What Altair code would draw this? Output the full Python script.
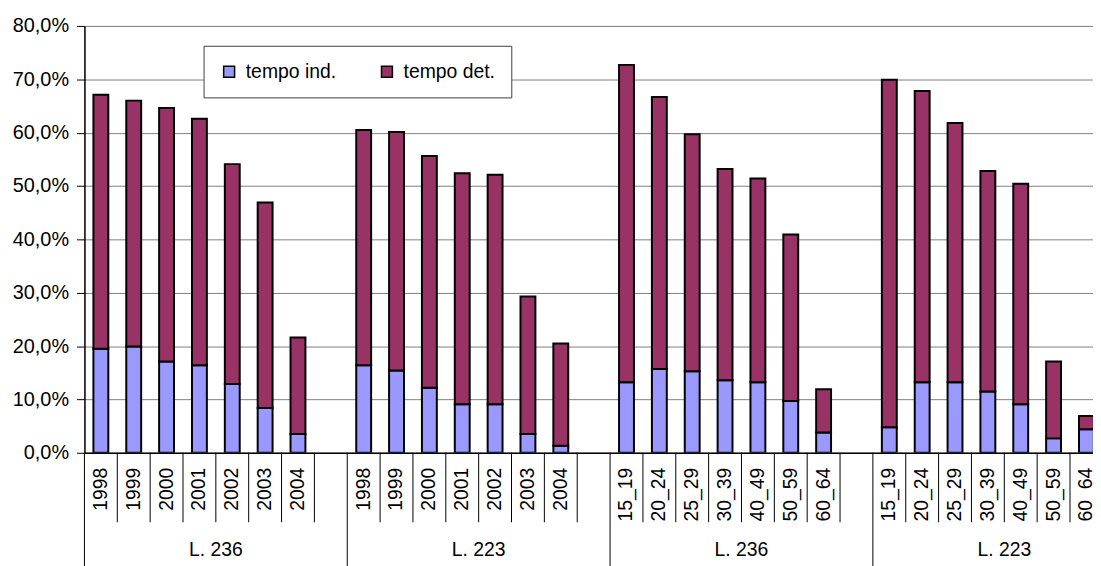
import altair as alt
import pandas as pd

# ---------------- data ----------------
groups = ["L. 236", "L. 223", "L. 236", "L. 223"]
years = ["1998", "1999", "2000", "2001", "2002", "2003", "2004"]
ages = ["15_19", "20_24", "25_29", "30_39", "40_49", "50_59", "60_64"]
group_categories = [years, years, ages, ages]
series_names = ["tempo ind.", "tempo det."]
series_colors = ["#9999FF", "#993366"]

# percent values
ind_values = [19.5, 19.9, 17.1, 16.4, 12.9, 8.4, 3.5,
              16.4, 15.4, 12.2, 9.1, 9.1, 3.5, 1.3,
              13.2, 15.7, 15.3, 13.6, 13.2, 9.7, 3.8,
              4.8, 13.2, 13.2, 11.5, 9.1, 2.7, 4.4]
det_values = [47.6, 46.1, 47.5, 46.2, 41.2, 38.5, 18.1,
              44.1, 44.7, 43.4, 43.3, 43.0, 25.8, 19.2,
              59.5, 51.0, 44.4, 39.6, 38.2, 31.2, 8.1,
              65.1, 54.6, 48.6, 41.3, 41.3, 14.4, 2.5]

y_ticks = [0, 0.1, 0.2, 0.3, 0.4, 0.5, 0.6, 0.7, 0.8]

# ---------------- layout / style ----------------
SLOTS = 8             # 7 bars + 1 empty slot per group
X_DOMAIN = [0, 30.7]  # visible part of the category axis
FONT = "Liberation Sans"
FS = 19.5

# ---------------- tables ----------------
rows, labels, short_div, long_div, glabels = [], [], [], [], []
k = 0
for g, (gname, cats) in enumerate(zip(groups, group_categories)):
    long_div.append({"pos": g * SLOTS})
    glabels.append({"pos": g * SLOTS + SLOTS / 2, "label": gname})
    for j, c in enumerate(cats):
        pos = g * SLOTS + j + 0.5
        rows.append({"pos": pos, "series": series_names[0], "order": 0, "value": ind_values[k] / 100})
        rows.append({"pos": pos, "series": series_names[1], "order": 1, "value": det_values[k] / 100})
        labels.append({"pos": pos, "label": c})
        short_div.append({"pos": g * SLOTS + j + 1})
        k += 1

bars_df = pd.DataFrame(rows)
labels_df = pd.DataFrame(labels)
short_df = pd.DataFrame(short_div)
long_df = pd.DataFrame(long_div)
glabels_df = pd.DataFrame(glabels)

xscale = alt.Scale(domain=X_DOMAIN, nice=False, zero=False, padding=0)

bars = alt.Chart(bars_df).mark_bar(size=15, stroke="black", strokeWidth=2, clip=True).encode(
    x=alt.X("pos:Q", scale=xscale,
            axis=alt.Axis(labels=False, ticks=False, grid=False, domain=True,
                          domainColor="black", domainWidth=1.5, title=None)),
    y=alt.Y("value:Q", stack="zero",
            scale=alt.Scale(domain=[0, 0.8], nice=False, padding=0),
            axis=alt.Axis(values=y_ticks, title=None,
                          labelExpr="replace(format(datum.value, '.1%'), '.', ',')",
                          labelFont=FONT, labelFontSize=20, labelColor="black",
                          labelPadding=8, tickSize=8, tickColor="black",
                          domainColor="black", domainWidth=1.5,
                          gridColor="#808080", gridWidth=1)),
    color=alt.Color("series:N",
                    scale=alt.Scale(domain=series_names, range=series_colors),
                    legend=alt.Legend(title=None, orient="none", legendX=120, legendY=20,
                                      direction="horizontal", fillColor="white",
                                      strokeColor="#404040", padding=16,
                                      symbolType="square", symbolSize=121,
                                      symbolStrokeColor="black", symbolStrokeWidth=1.5,
                                      labelFont=FONT, labelFontSize=FS, labelColor="black",
                                      labelOffset=7, columnPadding=41)),
    order=alt.Order("order:Q"),
)

short_rules = alt.Chart(short_df).mark_rule(color="black", strokeWidth=1).encode(
    x=alt.X("pos:Q", scale=xscale),
    y=alt.value(430), y2=alt.value(500),
)

long_rules = alt.Chart(long_df).mark_rule(color="black", strokeWidth=1).encode(
    x=alt.X("pos:Q", scale=xscale),
    y=alt.value(430), y2=alt.value(545),
)

cat_text = alt.Chart(labels_df).mark_text(
    angle=270, align="right", baseline="middle", font=FONT, fontSize=FS, color="black"
).encode(
    x=alt.X("pos:Q", scale=xscale),
    y=alt.value(445),
    text="label:N",
)

group_text = alt.Chart(glabels_df).mark_text(
    align="center", baseline="middle", font=FONT, fontSize=FS, color="black"
).encode(
    x=alt.X("pos:Q", scale=xscale),
    y=alt.value(528),
    text="label:N",
)

chart = alt.layer(bars, short_rules, long_rules, cat_text, group_text).properties(
    width=1016, height=430,
    padding={"left": 77, "top": 16, "right": 0, "bottom": 112},
    autosize=alt.AutoSizeParams(type="none"),
    background="white",
).configure_view(stroke=None).configure(font=FONT)

chart.save("out.html", embed_options={"renderer": "svg", "actions": False})
